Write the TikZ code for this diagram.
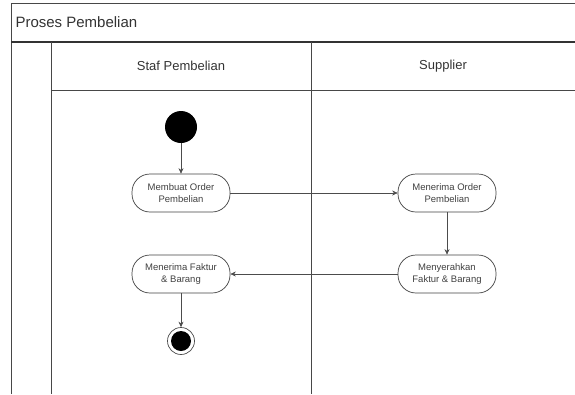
\documentclass[tikz,border=0pt]{standalone}
\usepackage{fontspec}
\setmainfont{Liberation Sans}
\usetikzlibrary{arrows.meta}
\tikzset{
    lane/.style      = {draw=black!72, line width=1pt},
    activity/.style  = {draw=black!75, line width=.7pt, rounded corners=18pt,
                        minimum width=98pt, minimum height=38pt, inner sep=1pt,
                        align=center, text=black!75,
                        font=\fontsize{9.5}{12.5}\selectfont},
    flow/.style      = {draw=black!70, line width=.7pt,
                        -{Stealth[length=5.5pt,width=5pt]}},
    initial/.style   = {circle, fill=black, minimum size=32pt, inner sep=0pt},
    final/.style     = {circle, draw=black!70, line width=.7pt, fill=white,
                        minimum size=27pt, inner sep=0pt,
                        path picture={\fill[black] (path picture bounding box.center) circle (10pt);}},
    lanetitle/.style = {text=black!80, font=\fontsize{13}{15}\selectfont}
}
\begin{document}
\begin{tikzpicture}[x=1pt, y=-1pt]
            \useasboundingbox (0,0) rectangle (575,394);
            \draw[lane] (11,394) -- (11,3) -- (575,3);
            \draw[lane, line width=1.3pt, draw=black!80] (11,42) -- (575,42);
            \draw[lane] (51,42) -- (51,394);
            \draw[lane] (311,42) -- (311,394);
            \draw[lane] (51,90) -- (575,90);
            \node[anchor=west, text=black!80, font=\fontsize{15}{18}\selectfont] (proses) at (12,22) {Proses Pembelian};
            \node[lanetitle] (staf) at (181,66) {Staf Pembelian};
            \node[lanetitle] (supplier) at (443,66) {Supplier};
            \node[initial] (mulai) at (181,127) {};
            \node[activity] (buatorder) at (181,193) {Membuat Order\\Pembelian};
            \node[activity] (terimaorder) at (447,193) {Menerima Order\\Pembelian};
            \node[activity] (serahfaktur) at (447,274) {Menyerahkan\\Faktur \& Barang};
            \node[activity] (terimafaktur) at (181,274) {Menerima Faktur\\\& Barang};
            \node[final] (selesai) at (181,341) {};
            \draw[flow] (mulai) -- (buatorder);
            \draw[flow] (buatorder) -- (terimaorder);
            \draw[flow] (terimaorder) -- (serahfaktur);
            \draw[flow] (serahfaktur) -- (terimafaktur);
            \draw[flow] (terimafaktur) -- (selesai);
\end{tikzpicture}
\end{document}
